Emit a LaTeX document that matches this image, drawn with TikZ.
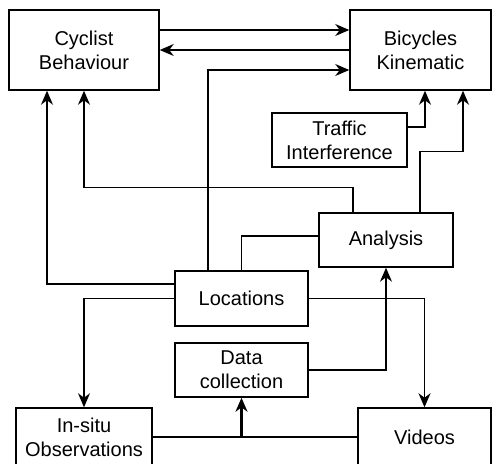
\documentclass[tikz,border=0pt]{standalone}
\usepackage{fontspec}
\setmainfont{Liberation Sans}
\usetikzlibrary{arrows.meta}
\begin{document}
\begin{tikzpicture}[x=1pt,y=-1pt,
  box/.style={draw,line width=1.5pt,fill=white,align=center,inner sep=0pt,
    font=\fontsize{20}{24}\selectfont},
  conn/.style={line width=1.5pt},
  arr/.style={conn,-{Stealth[length=14pt,width=12pt,inset=4.5pt]}},
  thickarr/.style={line width=2.8pt,-{Stealth[length=14pt,width=12pt,inset=4.5pt]}}]
\useasboundingbox (0,0) rectangle (492,463);
\begin{scope}
\clip (0,0) rectangle (492,463);
\node[box,minimum width=150pt,minimum height=80pt] (cb) at (84,50) {Cyclist\\Behaviour};
\node[box,minimum width=141pt,minimum height=80pt] (bk) at (420.5,50) {Bicycles\\Kinematic};
\node[box,minimum width=135pt,minimum height=54pt] (ti) at (339.5,140) {Traffic\\Interference};
\node[box,minimum width=134pt,minimum height=54pt] (an) at (386,240) {Analysis};
\node[box,minimum width=133pt,minimum height=55pt] (lo) at (241.5,298.5) {Locations};
\node[box,minimum width=133pt,minimum height=54pt] (dc) at (241.5,370) {Data\\collection};
\node[box,minimum width=136pt,minimum height=58pt] (is) at (84,437) {In-situ\\Observations};
\node[box,minimum width=133pt,minimum height=58pt] (vi) at (424.5,437) {Videos};

% top connections
\draw[arr] ([yshift=20pt]cb.east) -- ([yshift=20pt]bk.west);
\draw[arr] (bk.west) -- (cb.east);
\draw[arr] ([xshift=-33.5pt]lo.north) |- ([yshift=-20pt]bk.west);
% to cyclist behaviour
\draw[arr] ([yshift=14.5pt]lo.west) -| ([xshift=-37pt]cb.south);
\draw[arr] ([xshift=-33pt]an.north) -- ++(0,25pt) -| (cb.south);
% to bicycles kinematic
\draw[arr] ([yshift=13pt]ti.east) -| ([xshift=4.5pt]bk.south);
\draw[arr] ([xshift=34pt]an.north) -- ++(0,61pt) -| ([xshift=42.5pt]bk.south);
% locations
\draw[conn] (lo.north) |- ([yshift=4pt]an.west);
\draw[arr] (lo.west) -| (is.north);
\draw[arr] (lo.east) -| (vi.north);
% data collection
\draw[arr] (dc.east) -| (an.south);
\draw[conn] (is.east) -- (vi.west);
\coordinate (j) at (dc.south |- is.east);
\draw[thickarr] (j) -- (dc.south);
\end{scope}
\end{tikzpicture}
\end{document}
